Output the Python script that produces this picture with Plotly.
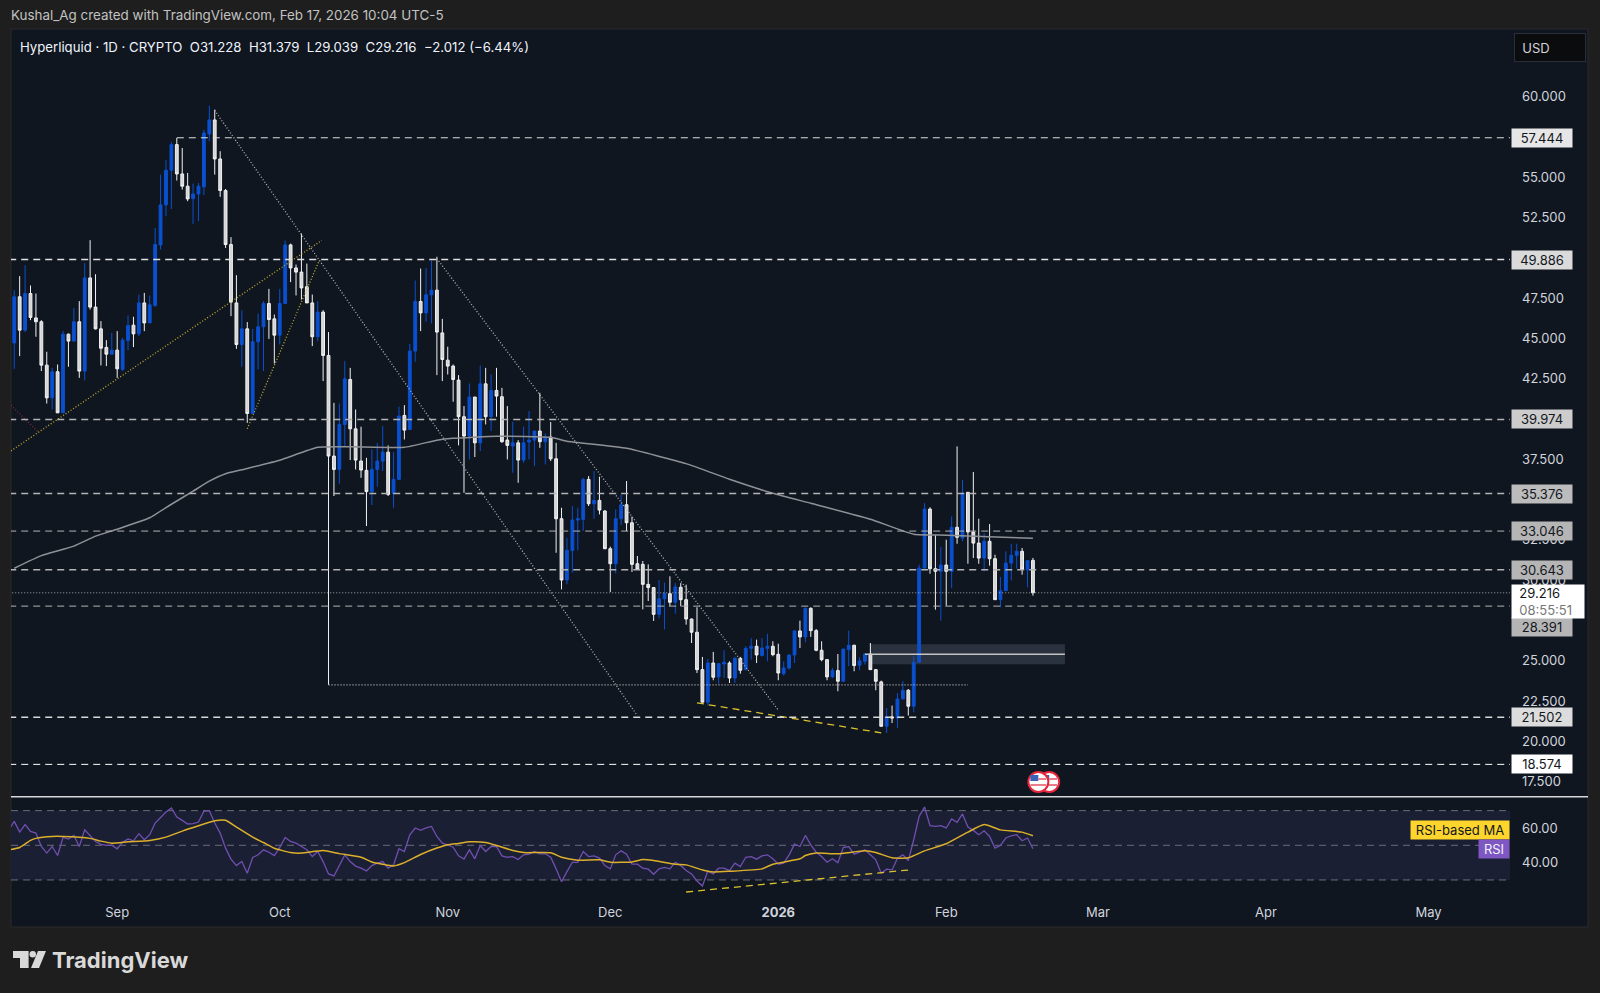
import pandas as pd
import plotly.graph_objects as go

# daily candles 2025-08-13 .. 2026-02-17
first_day = "2025-08-13"
opens = [
    44.72,47.58,45.51,47.78,46.27,46.03,43.34,41.31,42.93,40.38,
    45.26,44.83,46.03,42.97,48.75,46.94,45.59,44.44,44.02,44.27,
    43.07,44.87,45.82,45.28,47.20,45.96,47.04,50.80,53.28,55.43,
    57.02,55.20,54.44,53.67,53.96,54.40,57.68,58.55,56.13,54.17,
    50.82,47.20,44.62,45.59,40.34,44.79,45.72,47.16,46.21,45.20,
    47.16,50.80,49.37,49.11,48.20,47.20,45.10,46.63,43.94,37.70,
    36.87,39.66,42.45,39.39,37.39,36.81,35.49,36.87,37.39,37.94,
    35.38,36.25,40.22,39.35,44.21,47.29,46.58,47.70,47.99,45.34,
    43.65,43.28,42.41,40.14,38.94,41.36,38.52,42.18,40.14,41.77,
    41.38,38.69,38.32,38.52,37.45,38.57,38.69,39.25,38.59,38.88,
    37.53,33.81,30.01,31.85,33.73,33.77,36.25,34.74,34.95,34.29,
    31.95,31.02,33.81,34.68,33.56,31.02,30.98,29.74,29.54,27.88,
    28.85,29.16,28.63,29.56,28.79,27.59,26.77,24.45,22.43,24.86,
    24.00,24.80,24.86,23.93,25.15,24.45,25.77,25.90,25.32,25.77,
    25.90,25.40,24.20,24.55,25.36,26.85,26.48,28.25,26.87,25.65,
    25.07,24.00,24.39,23.73,25.69,25.96,24.72,24.97,25.42,24.45,
    23.69,20.94,21.52,21.45,22.63,23.17,22.18,24.91,30.75,34.41,
    30.71,30.55,30.94,30.55,33.28,32.61,35.45,32.99,32.30,31.37,
    32.41,31.33,28.79,29.35,31.06,31.54,31.79,30.65,31.228,
]
highs = [
    47.99,48.86,49.54,48.28,47.78,46.13,44.17,43.17,43.38,45.45,
    45.30,46.89,47.31,49.68,51.09,48.98,46.07,44.89,45.34,45.45,
    45.03,46.42,46.34,47.72,47.82,47.66,51.85,55.16,56.05,57.19,
    57.43,56.81,55.26,54.60,54.64,57.95,59.44,59.19,56.61,54.27,
    51.28,48.92,46.73,46.01,45.59,46.54,47.31,48.07,46.48,48.07,
    51.07,50.88,49.58,51.50,49.64,47.72,47.31,46.75,45.39,41.00,
    40.96,43.59,43.17,40.59,39.52,37.59,38.11,38.52,39.56,38.36,
    37.94,40.76,40.86,44.66,48.59,49.33,49.37,49.83,50.06,46.21,
    44.48,43.38,42.72,40.80,42.20,41.36,43.32,43.17,42.76,43.17,
    41.93,40.80,39.83,38.69,39.52,40.49,39.25,41.62,39.10,39.81,
    38.52,34.49,32.63,34.60,34.49,36.35,36.46,36.77,36.42,34.35,
    32.08,34.39,35.32,36.15,33.94,31.50,31.19,30.98,29.54,30.01,
    29.85,30.24,29.82,29.82,29.72,27.62,28.32,25.24,25.11,25.55,
    24.86,25.65,24.97,25.24,25.24,25.90,26.41,26.31,26.41,26.68,
    26.21,26.06,24.97,25.38,26.89,27.49,28.32,28.32,26.97,26.21,
    25.11,24.55,25.42,25.73,26.87,26.00,25.22,25.48,26.10,24.49,
    23.77,22.07,22.22,23.00,23.73,23.25,25.28,30.96,34.78,34.52,
    32.82,32.06,32.51,33.96,38.30,36.23,35.45,36.71,33.81,32.92,
    33.48,31.58,30.20,31.79,32.26,32.26,32.00,31.23,31.379,
]
lows = [
    43.11,43.90,45.39,46.13,45.10,42.97,40.96,40.59,40.38,40.38,
    43.24,44.83,42.55,42.39,46.79,45.55,43.32,43.28,44.02,42.55,
    42.97,44.27,44.46,45.14,45.45,45.96,46.96,50.51,52.58,53.03,
    54.79,54.23,53.51,52.10,52.27,53.88,57.23,55.16,53.78,50.61,
    46.38,44.35,43.24,39.76,40.34,43.07,42.97,44.97,43.44,44.62,
    47.16,48.49,47.66,47.41,47.20,44.52,44.83,42.35,23.51,35.22,
    35.98,38.32,37.45,36.87,36.35,33.36,34.66,35.80,36.77,35.22,
    34.49,36.21,38.73,39.35,43.55,45.45,46.03,45.92,42.72,42.35,
    42.76,41.07,38.36,35.42,37.49,37.64,38.01,39.66,39.25,40.14,
    38.52,37.49,36.66,36.04,37.28,37.49,37.08,38.21,37.18,37.39,
    31.70,29.43,29.74,30.47,31.85,33.05,34.60,33.81,34.08,31.95,
    29.27,30.42,33.42,33.05,30.51,30.67,28.19,28.71,27.47,27.63,
    26.95,28.38,27.92,28.38,27.24,26.10,24.24,22.43,22.22,23.79,
    23.58,23.93,23.62,23.62,24.20,24.41,25.07,24.86,25.28,24.97,
    25.28,23.79,24.08,24.45,24.86,25.79,26.15,26.48,25.59,24.97,
    23.79,23.93,23.11,23.73,24.66,24.35,24.41,24.76,24.45,23.17,
    20.90,20.52,21.14,20.83,22.63,21.60,21.81,24.91,30.75,30.40,
    28.17,27.49,28.42,29.51,32.26,32.41,31.02,31.37,31.02,30.55,
    30.90,28.79,28.32,29.35,29.99,30.71,30.34,29.56,29.039,
]
closes = [
    47.58,45.51,47.78,46.30,46.03,43.34,41.31,42.93,40.38,45.26,
    44.83,46.03,42.97,48.75,46.94,45.59,44.39,44.02,44.27,43.11,
    44.89,45.80,45.28,47.20,45.96,47.08,50.82,53.28,55.43,57.02,
    55.20,54.44,53.65,53.96,54.44,57.74,58.55,56.13,54.17,50.82,
    47.25,44.62,45.59,40.34,44.79,45.72,47.16,46.17,45.20,47.16,
    50.80,49.37,49.11,48.13,47.20,45.10,46.63,43.94,37.70,36.87,
    39.66,42.49,39.39,37.45,36.83,35.49,36.87,37.39,37.94,35.32,
    36.25,40.18,39.31,44.21,47.29,46.58,47.70,47.99,45.39,43.69,
    43.28,42.45,40.14,38.94,41.36,38.52,42.18,40.14,41.77,41.42,
    38.59,38.36,38.52,37.45,38.52,38.69,39.25,38.59,38.88,37.53,
    33.81,30.01,31.85,33.73,33.81,36.25,34.74,34.95,34.35,31.95,
    31.02,33.81,34.68,33.56,30.98,30.67,29.74,29.54,27.88,28.85,
    29.18,28.63,29.58,28.79,27.59,26.77,24.45,22.43,24.86,23.98,
    24.82,24.91,23.93,25.15,24.41,25.77,25.90,25.36,25.79,25.90,
    25.38,24.24,24.55,25.36,26.85,26.48,28.25,26.87,25.65,25.07,
    24.00,24.39,23.73,25.73,25.96,24.70,24.99,25.42,24.45,23.73,
    20.94,21.52,21.45,22.63,23.17,22.18,24.91,30.75,34.41,30.71,
    30.55,30.94,30.55,33.28,32.66,35.40,32.99,32.30,31.37,32.41,
    31.33,28.79,29.35,31.06,31.54,31.79,30.69,31.21,29.216,
]

# 200 day moving average, read at a few days
sma_dates = [
    "2025-08-13","2025-08-18","2025-08-24","2025-08-28","2025-09-01","2025-09-07","2025-09-11",
    "2025-09-15","2025-09-18","2025-09-21","2025-09-24","2025-10-01","2025-10-08","2025-10-14",
    "2025-10-24","2025-10-30","2025-11-02","2025-11-10","2025-11-20","2025-11-23","2025-12-04",
    "2025-12-15","2025-12-23","2025-12-31","2026-01-07","2026-01-18","2026-01-26","2026-02-01",
    "2026-02-17",
]
sma_values = [
    30.74,31.52,32.11,32.73,33.16,33.87,34.71,35.52,36.14,36.60,36.85,37.44,38.24,38.27,
    38.24,38.68,38.80,38.93,38.86,38.62,38.18,37.23,36.26,35.39,34.77,33.78,32.85,32.79,32.60,
]

# horizontal levels
level_values = [57.444, 49.886, 39.974, 35.376, 33.046, 30.643, 28.391, 21.502, 18.574]
level_starts = ["2025-09-12"] + ["2025-08-01"] * 8
level_colors = ["#e0e0e0", "#e0e0e0", "#b4b4b4", "#b4b4b4", "#b4b4b4", "#b4b4b4", "#b4b4b4", "#d8d8d8", "#ffffff"]
level_widths = [1, 1.5, 1.5, 1.5, 1, 1.5, 1, 1.5, 1]
label_colors = ["#e6e6e6", "#dadada", "#cccccc", "#bcbcbc", "#b5b5b5", "#b5b5b5", "#b5b5b5", "#dcdcdc", "#ffffff"]
last_price = 29.216

# the other round ticks sit fully behind the level labels
price_ticks = [17.5, 20, 22.5, 25, 30, 32.5, 37.5, 42.5, 45, 47.5, 52.5, 55, 60]
rsi_ticks = [40, 60]
rsi_levels = [70, 50, 30]
month_dates = ["2025-09-01", "2025-10-01", "2025-11-01", "2025-12-01", "2026-01-01", "2026-02-01", "2026-03-01", "2026-04-01", "2026-05-01"]
month_labels = ["Sep", "Oct", "Nov", "Dec", "<b>2026</b>", "Feb", "Mar", "Apr", "May"]

# drawn trend lines, (dates, prices)
gray_dotted = [
    (["2025-09-19", "2025-12-06"], [59.14, 21.59]),
    (["2025-10-30", "2026-01-01"], [49.95, 21.94]),
]
yellow_dotted = [
    (["2025-08-12 09:36", "2025-10-08 18:00"], [38.02, 51.08]),
    (["2025-09-25", "2025-10-08 07:00"], [39.40, 49.84]),
]
red_dotted_dates = ["2025-08-12 09:36", "2025-08-17 10:00"]
red_dotted_prices = [40.85, 39.19]
wick_line_dates = ["2025-10-10", "2026-02-05"]
wick_line_prices = [23.51, 23.51]
low_trend_dates = ["2025-12-17", "2026-01-20"]
low_trend_prices = [22.39, 20.53]
zone_dates = ["2026-01-17 21:36", "2026-02-22 21:36"]
zone_prices = [24.79, 26.03]
zone_mid_dates = ["2026-01-17", "2026-02-22 21:36"]
zone_mid_price = 25.41
event_dates = ["2026-02-20", "2026-02-18"]
event_price = 17.48

# RSI from 2025-08-12
rsi_first_day = "2025-08-12"
rsi_values = [
    59.0,63.8,57.6,61.9,58.0,57.05,49.3,45.5,49.3,44.1,54.5,53.6,55.7,49.3,59.0,55.7,52.2,50.5,49.9,50.1,
    48.0,51.8,53.6,52.6,56.7,53.2,56.1,62.85,66.3,69.2,71.55,66.3,64.4,62.3,62.5,63.4,69.6,70.0,62.85,57.05,
    48.35,42.0,38.3,40.6,33.9,42.95,44.5,47.4,46.0,44.1,48.75,54.5,52.2,51.25,49.3,47.4,43.5,46.4,40.6,33.5,
    32.3,38.7,44.5,40.6,38.0,36.8,35.2,38.3,39.7,40.6,36.8,38.7,48.0,46.4,56.1,60.0,58.6,60.0,60.9,55.1,
    51.25,50.3,48.9,43.9,42.0,47.4,42.2,49.9,46.4,49.3,49.3,43.9,43.1,43.5,41.8,44.5,44.9,46.4,45.1,45.1,
    43.1,36.4,29.0,34.8,40.2,40.2,46.4,43.5,43.9,42.6,38.3,36.4,44.5,46.8,44.9,39.1,39.1,36.8,36.2,33.3,
    36.4,37.3,36.4,40.2,38.3,35.4,33.5,29.4,26.5,35.2,33.5,36.8,36.8,35.4,39.7,37.7,43.1,43.5,42.0,43.9,
    44.5,42.2,39.1,39.7,44.5,50.7,49.3,55.7,50.3,46.0,43.5,40.2,42.2,40.0,48.7,49.3,44.9,46.0,47.4,44.5,
    41.6,33.9,36.2,35.8,42.6,44.5,41.2,53.2,66.7,72.1,61.3,60.9,61.3,60.0,65.2,63.2,68.1,60.5,58.6,56.1,
    58.4,55.1,48.4,49.9,54.2,55.5,56.1,52.6,54.2,48.0,
]
rsi_ma_dates = [
    "2025-08-12","2025-08-14","2025-08-16","2025-08-17","2025-08-20","2025-08-22","2025-08-27","2025-08-29",
    "2025-08-31","2025-09-03","2025-09-07","2025-09-10","2025-09-13","2025-09-16","2025-09-19","2025-09-21",
    "2025-09-23","2025-09-26","2025-09-28","2025-09-30","2025-10-03","2025-10-05","2025-10-09","2025-10-12",
    "2025-10-16","2025-10-18","2025-10-20","2025-10-22","2025-10-24","2025-10-27","2025-10-30","2025-11-01",
    "2025-11-03","2025-11-05","2025-11-08","2025-11-10","2025-11-13","2025-11-15","2025-11-20","2025-11-22",
    "2025-11-25","2025-11-29","2025-12-01","2025-12-05","2025-12-07","2025-12-09","2025-12-13","2025-12-15",
    "2025-12-18","2025-12-20","2025-12-23","2025-12-29","2025-12-31","2026-01-05","2026-01-06","2026-01-08",
    "2026-01-12","2026-01-17","2026-01-19","2026-01-22","2026-01-25","2026-01-28","2026-02-01","2026-02-05",
    "2026-02-08","2026-02-11","2026-02-15","2026-02-17",
]
rsi_ma_values = [
    47.4,48.75,52.8,54.0,55.1,55.1,54.0,52.4,51.25,52.0,52.8,54.7,58.2,61.3,64.2,64.4,
    60.5,54.7,51.6,48.3,45.8,45.5,47.0,45.2,43.1,40.4,39.1,38.1,40.0,44.7,48.4,50.3,
    51.1,52.0,51.6,49.9,47.0,45.8,45.7,43.1,41.4,41.6,40.2,40.4,41.8,41.2,39.1,38.7,
    35.8,34.6,35.0,36.4,39.1,42.2,44.1,45.5,45.1,46.8,45.8,42.8,42.8,46.8,50.9,57.6,
    62.0,58.9,57.6,55.5,
]
rsi_trend_dates = ["2025-12-15", "2026-01-25"]
rsi_trend_values = [23.05, 35.75]

BG_PAGE = "#1e1e1e"
BG_PANE = "#0f1620"
TEXT = "#d1d4dc"
BLUE = "#0a50d0"
FONT = "Inter"
X_RANGE = ["2025-08-12 09:36", "2026-05-16 01:00"]


def px(x):
    return (x - 11) / 1499


def py(y):
    return (897 - y) / 867


def page_text(x, y, text, size=13, color=TEXT, **kw):
    return dict(xref="paper", yref="paper", x=px(x), y=py(y), text=text, showarrow=False,
                xanchor=kw.pop("xanchor", "left"), yanchor="middle",
                font=dict(family=kw.pop("family", FONT), size=size, color=color), **kw)


dates = pd.date_range(first_day, periods=len(opens))
rsi_dates = pd.date_range(rsi_first_day, periods=len(rsi_values))

fig = go.Figure()
fig.add_trace(go.Candlestick(
    x=dates, open=opens, high=highs, low=lows, close=closes,
    increasing=dict(line=dict(color=BLUE, width=1), fillcolor=BLUE),
    decreasing=dict(line=dict(color="#f2f2f2", width=1), fillcolor="#d4d4d4"),
    whiskerwidth=0,
))
fig.add_trace(go.Scatter(x=sma_dates, y=sma_values, mode="lines",
                         line=dict(color="#8f9196", width=1.5, shape="spline", smoothing=0.4)))


def price_line(x, y, color, width=1, dash="solid"):
    fig.add_trace(go.Scatter(x=x, y=y, mode="lines", line=dict(color=color, width=width, dash=dash)))


for xs, ys in gray_dotted:
    price_line(xs, ys, "#b4b4b4", 1.3, "1px,2px")
for xs, ys in yellow_dotted:
    price_line(xs, ys, "#c2b030", 1.3, "1px,2px")
price_line(red_dotted_dates, red_dotted_prices, "#8a2b3c", 1.2, "1px,2px")
price_line(wick_line_dates, wick_line_prices, "#c8c8c8", 1.2, "1px,2px")
price_line(low_trend_dates, low_trend_prices, "#d9c22e", 1.3, "7px,5px")
price_line(zone_mid_dates, [zone_mid_price, zone_mid_price], "#c4c4c4", 1.5)

for value, start, color, width in zip(level_values, level_starts, level_colors, level_widths):
    price_line([start, X_RANGE[1]], [value, value], color, width, "7px,5px")
price_line(["2025-08-01", X_RANGE[1]], [last_price, last_price], "#cfcfcf", 0.8, "1px,2px")

for trace in fig.data:
    trace.update(xaxis="x", yaxis="y")

fig.add_trace(go.Scatter(x=rsi_dates, y=rsi_values, mode="lines", xaxis="x2", yaxis="y2",
                         line=dict(color="#6f4fb0", width=1.3)))
fig.add_trace(go.Scatter(x=rsi_ma_dates, y=rsi_ma_values, mode="lines", xaxis="x2", yaxis="y2",
                         line=dict(color="#dcb02a", width=1.5, shape="spline", smoothing=0.5)))
fig.add_trace(go.Scatter(x=rsi_trend_dates, y=rsi_trend_values, mode="lines", xaxis="x2", yaxis="y2",
                         line=dict(color="#d9c22e", width=1.3, dash="7px,5px")))

shapes = [
    # pane frame
    dict(type="rect", xref="paper", yref="paper", x0=0, x1=px(1588), y0=py(927), y1=py(29),
         fillcolor=BG_PANE, line=dict(color="#2b2b2b", width=1), layer="below"),
    dict(type="rect", xref="x2 domain", yref="y2", x0=0, x1=1, y0=rsi_levels[2], y1=rsi_levels[0],
         fillcolor="#1b1f33", line=dict(width=0), layer="below"),
    dict(type="rect", xref="x", yref="y", x0=zone_dates[0], x1=zone_dates[1], y0=zone_prices[0], y1=zone_prices[1],
         fillcolor="rgba(205,215,240,0.15)", line=dict(width=0), layer="below"),
    dict(type="line", xref="paper", yref="paper", x0=0, x1=px(1588), y0=py(796.7), y1=py(796.7),
         line=dict(color="#d8d8d8", width=1.5)),
    # TradingView mark
    dict(type="path", xref="paper", yref="paper", fillcolor="#d9d9d9", line=dict(width=0),
         path=f"M {px(13)} {py(951)} L {px(28.6)} {py(951)} L {px(28.6)} {py(968)} L {px(20)} {py(968)} "
              f"L {px(20)} {py(958)} L {px(13)} {py(958)} Z"),
    dict(type="path", xref="paper", yref="paper", fillcolor="#d9d9d9", line=dict(width=0),
         path=f"M {px(38)} {py(951)} L {px(46)} {py(951)} L {px(39)} {py(968)} L {px(31)} {py(968)} Z"),
    dict(type="circle", xref="paper", yref="paper", fillcolor="#d9d9d9", line=dict(width=0),
         x0=px(29.5), x1=px(36), y0=py(957.5), y1=py(951)),
]
for level in rsi_levels:
    shapes.append(dict(type="line", xref="x2 domain", yref="y2", x0=0, x1=1, y0=level, y1=level, layer="below",
                       line=dict(color="#6a6d78", width=1, dash="7px,5px")))
# economic event flags
for day in event_dates:
    base = dict(xref="x", yref="y", xsizemode="pixel", ysizemode="pixel", xanchor=day, yanchor=event_price)
    shapes.append(dict(type="circle", x0=-10, x1=10, y0=-10, y1=10, fillcolor="#ffffff",
                       line=dict(color="#e5263c", width=2), **base))
    shapes.append(dict(type="rect", x0=-8, x1=0, y0=1, y1=7, fillcolor="#3b62b8", line=dict(width=0), **base))
    shapes.append(dict(type="rect", x0=-8, x1=8, y0=-4, y1=-2, fillcolor="#e87c88", line=dict(width=0), **base))
    shapes.append(dict(type="rect", x0=0, x1=8, y0=2, y1=4, fillcolor="#e87c88", line=dict(width=0), **base))

annotations = [
    page_text(9, 15.5, "Kushal_Ag created with TradingView.com, Feb 17, 2026 10:04 UTC-5", 13.4, "#c2c2c2"),
    page_text(18, 47, "Hyperliquid · 1D · CRYPTO\u00a0\u00a0O31.228\u00a0\u00a0H31.379\u00a0\u00a0L29.039\u00a0\u00a0C29.216\u00a0\u00a0−2.012 (−6.44%)",
              13.2, "#f0f3fa"),
    page_text(50, 960, "<b>TradingView</b>", 22, "#d9d9d9"),
    dict(xref="paper", yref="paper", x=px(1514), y=py(48), text="\u00a0\u00a0USD", showarrow=False, xanchor="left", yanchor="middle",
         width=70, height=27, align="left", bgcolor="#0b0c0e", bordercolor="#2a2e39", borderpad=0,
         font=dict(family=FONT, size=13, color=TEXT)),
    dict(xref="paper", yref="paper", x=px(1510), y=py(830), text="RSI-based MA", showarrow=False, xanchor="right", yanchor="middle",
         width=98, height=18, bgcolor="#fdd52c", borderpad=0, font=dict(family=FONT, size=13, color="#131722")),
    dict(xref="paper", yref="paper", x=px(1510), y=py(849), text="RSI", showarrow=False, xanchor="right", yanchor="middle",
         width=30, height=18, bgcolor="#7e57c2", borderpad=0, font=dict(family=FONT, size=13, color="#f0f3fa")),
]
for value, color in zip(level_values, label_colors):
    annotations.append(dict(xref="paper", yref="y", x=1, xshift=1, y=value, yshift=-21 if value == 28.391 else 0,
                            text=f"{value:.3f}", showarrow=False, xanchor="left", yanchor="middle",
                            width=60, height=18, bgcolor=color, borderpad=0,
                            font=dict(family=FONT, size=13, color="#131722")))
annotations.append(dict(xref="paper", yref="y", x=1, xshift=1, y=last_price, yshift=-9,
                        text=f"\u00a0\u00a0{last_price:.3f}<br><span style='color:#777'>\u00a0\u00a008:55:51</span>", showarrow=False,
                        xanchor="left", yanchor="middle", width=72, height=33, align="left", bgcolor="#ffffff", borderpad=0,
                        font=dict(family=FONT, size=13, color="#131722")))

fig.update_layout(
    width=1600, height=993,
    paper_bgcolor=BG_PAGE, plot_bgcolor=BG_PANE,
    margin=dict(l=11, r=90, t=30, b=96),
    showlegend=False, hovermode=False,
    boxgap=0.26,
    font=dict(family=FONT, size=13, color=TEXT),
    shapes=shapes, annotations=annotations,
    xaxis=dict(type="date", range=X_RANGE, domain=[0, 1], anchor="y", showticklabels=False, showgrid=False, zeroline=False,
               rangeslider=dict(visible=False), ticks=""),
    yaxis=dict(domain=[py(796.5), 1], range=[16.58, 64.13], side="right", tickvals=price_ticks, tickformat=".3f",
               showgrid=False, zeroline=False, ticks="", ticklabelstandoff=11, anchor="x"),
    xaxis2=dict(type="date", range=X_RANGE, domain=[0, 1], anchor="y2", matches="x", showgrid=False, zeroline=False,
                tickvals=month_dates, ticktext=month_labels, ticks="", ticklabelstandoff=6),
    yaxis2=dict(domain=[0, py(798)], range=[20.17, 77.29], side="right", tickvals=rsi_ticks, tickformat=".2f",
                showgrid=False, zeroline=False, ticks="", ticklabelstandoff=11, anchor="x2"),
)

# plotly's page keeps the default 8px body margin otherwise
fig.write_html("out.html", config={"displayModeBar": False},
               post_script="document.body.style.margin='0';document.body.style.overflow='hidden';")
